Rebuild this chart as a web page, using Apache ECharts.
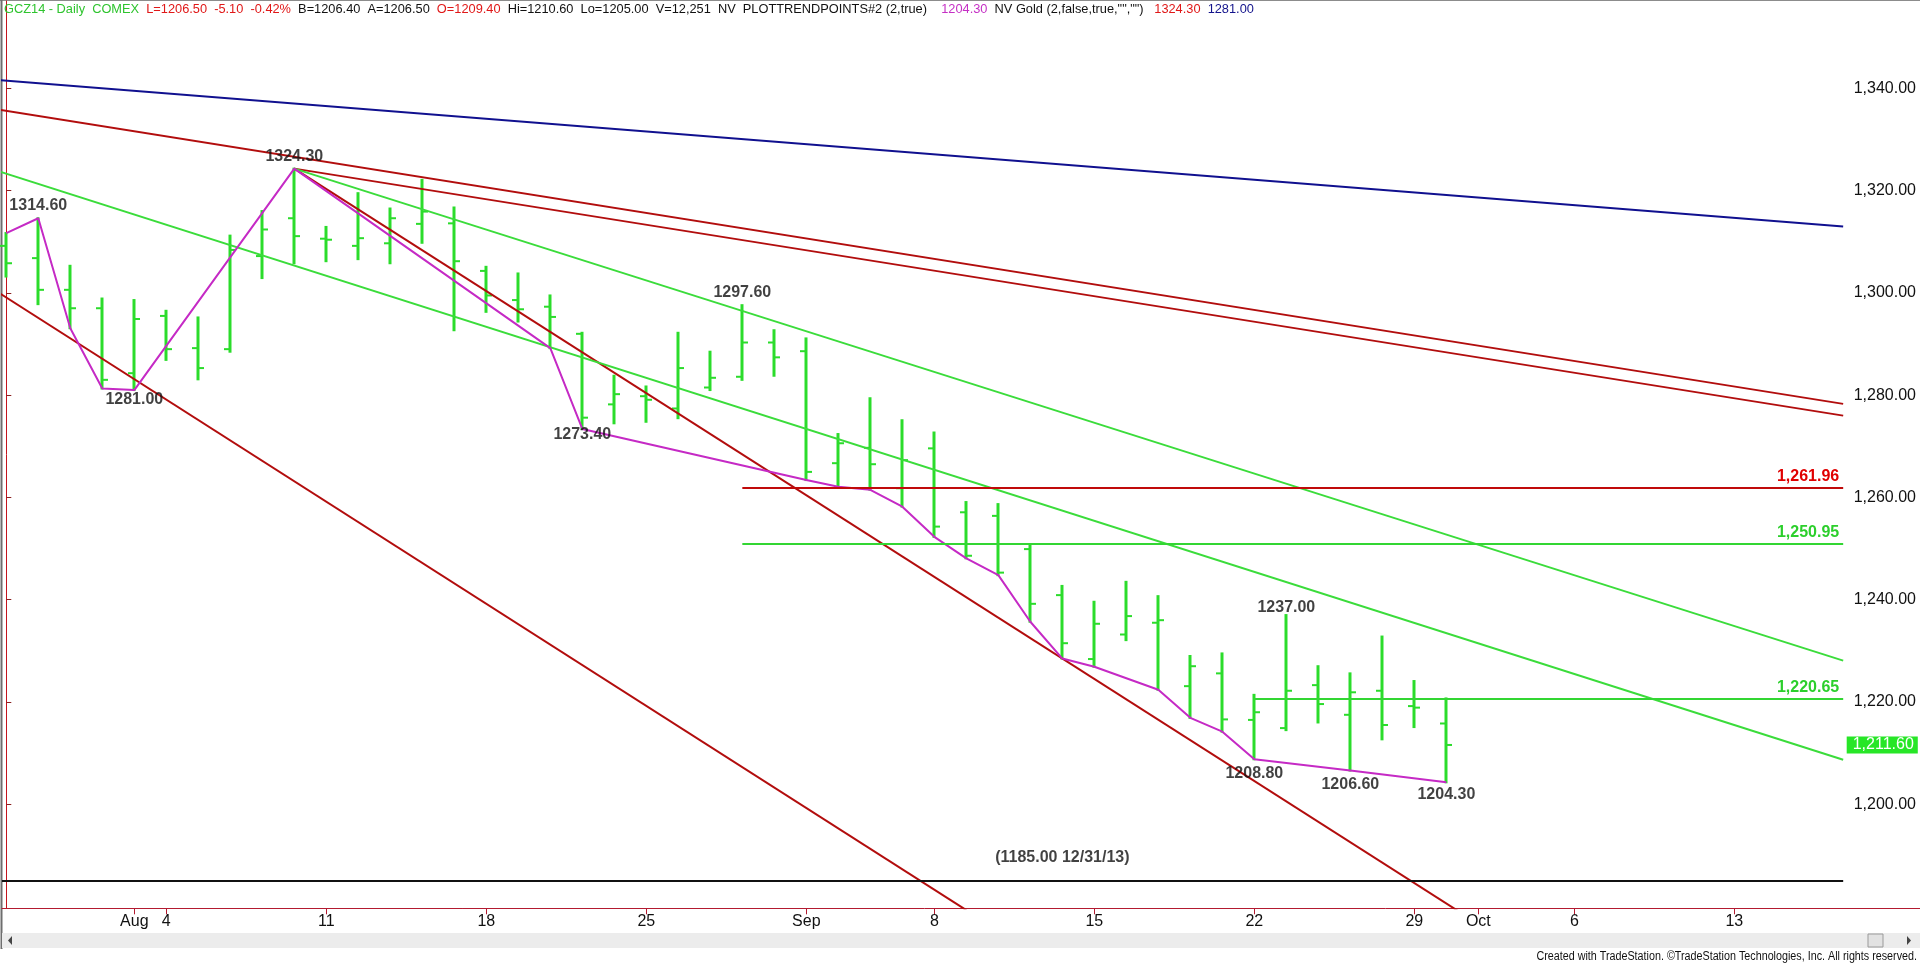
<!DOCTYPE html>
<html>
<head>
<meta charset="utf-8">
<script src="https://cdn.jsdelivr.net/npm/echarts@6/dist/echarts.min.js"></script>
<style>
html,body{margin:0;padding:0;background:#fff;overflow:hidden;}
#c{width:1920px;height:964px;}
</style>
</head>
<body>
<div id="c"></div>
<script>
// ---- trading days on the axis (index = position) ----
const days = ['07-28','07-29','07-30','07-31','08-01','08-04','08-05','08-06','08-07','08-08',
  '08-11','08-12','08-13','08-14','08-15','08-18','08-19','08-20','08-21','08-22',
  '08-25','08-26','08-27','08-28','08-29','09-02','09-03','09-04','09-05','09-08',
  '09-09','09-10','09-11','09-12','09-15','09-16','09-17','09-18','09-19','09-22',
  '09-23','09-24','09-25','09-26','09-29','09-30','10-01','10-02','10-03','10-06',
  '10-07','10-08','10-09','10-10','10-13','10-14','10-15','10-16'];

// ---- daily OHLC (Jul 28 .. Sep 30) ----
const open  = [1309.2,1306.8,1300.6,1297.0,1284.3,1295.5,1289.2,1289.0,1307.2,1314.6,
  1310.6,1309.2,1309.7,1313.5,1313.6,1304.3,1298.6,1297.3,1292.0,1278.2,
  1279.8,1277.4,1281.5,1283.6,1290.3,1288.6,1266.7,1269.7,1261.8,1269.6,
  1257.1,1256.4,1249.9,1240.9,1228.4,1233.2,1235.5,1223.1,1225.6,1216.5,
  1214.9,1223.3,1217.5,1222.2,1219.2,1215.8];
const high  = [1311.7,1314.6,1305.3,1298.9,1298.6,1296.5,1295.2,1311.2,1316.0,1324.3,
  1312.9,1319.5,1316.5,1322.1,1316.7,1305.1,1303.8,1299.5,1292.2,1283.8,
  1281.7,1292.2,1288.5,1297.6,1292.7,1291.1,1272.4,1279.4,1275.1,1272.7,
  1259.1,1258.7,1250.9,1242.7,1239.6,1243.5,1240.7,1229.0,1229.5,1221.4,
  1237.0,1227.0,1225.6,1232.8,1224.1,1220.7];
const low   = [1303.2,1297.8,1293.1,1281.3,1281.0,1286.9,1283.1,1288.5,1302.9,1305.8,
  1306.2,1306.6,1305.8,1309.8,1292.7,1296.3,1294.4,1289.2,1273.4,1274.5,
  1274.8,1275.5,1281.0,1283.0,1283.8,1263.4,1262.1,1261.5,1258.2,1252.3,
  1248.1,1244.8,1235.7,1228.5,1226.9,1232.1,1222.4,1216.9,1214.2,1208.8,
  1214.5,1216.0,1206.6,1212.7,1215.1,1204.3];
const close = [1305.8,1300.6,1297.0,1283.0,1294.9,1289.0,1285.3,1308.4,1312.4,1311.1,
  1310.4,1310.7,1314.6,1315.9,1306.2,1299.5,1296.8,1295.3,1275.6,1280.2,
  1279.1,1285.3,1283.4,1290.3,1287.4,1265.0,1270.6,1266.5,1267.3,1254.3,
  1248.6,1245.3,1239.2,1231.5,1235.3,1236.8,1236.0,1227.0,1216.6,1218.0,
  1222.2,1219.6,1221.9,1215.5,1218.9,1211.6];

// ---- x tick labels ----
const xTickDays = ['08-01','08-04','08-11','08-18','08-25','09-02','09-08','09-15','09-22','09-29','10-01','10-06','10-13'];
const xTickText = ['Aug','4','11','18','25','Sep','8','15','22','29','Oct','6','13'];
// ---- y tick labels ----
const yTicks = [1200,1220,1240,1260,1280,1300,1320,1340];

// ---- PLOTTRENDPOINTS zigzag [dayIndex, price] ----
const trendPoints = [[0,1311.7],[1,1314.6],[2,1293.1],[3,1281.3],[4,1281.0],[9,1324.3],[17,1289.2],
  [18,1273.4],[25,1263.4],[26,1262.1],[27,1261.5],[28,1258.2],[29,1252.3],[30,1248.1],[31,1244.8],
  [32,1235.7],[33,1228.5],[34,1226.9],[36,1222.4],[37,1216.9],[38,1214.2],[39,1208.8],[42,1206.6],[45,1204.3]];

// ---- trend lines, two anchors each [dayIndex, price] ----
const blueLine    = [[-0.2,1341.6],[57.4,1313.0]];
const redLineA    = [[-0.2,1335.8],[57.4,1278.3]];
const redLineB    = [[9,1324.3],[57.4,1276.0]];
const redSteepA   = [[9,1324.3],[33,1228.5]];
const redSteepB   = [[-0.2,1299.9],[30,1179.3]];
const greenUpper  = [[9,1324.3],[57.4,1228.1]];
const greenLower  = [[-0.2,1323.7],[57.4,1208.7]];

// ---- horizontal levels ----
const levelValues = [1261.96,1250.95,1220.65];
const levelStartDay = ['08-28','08-28','09-22'];
const supportValue = 1185.00;
const supportText = '(1185.00 12/31/13)';
const supportLabelDay = '09-12';

// ---- swing annotations [dayIndex, price, side] ----
const annotations = [[1,1314.6,'top'],[4,1281.0,'bottom'],[9,1324.3,'top'],[18,1273.4,'bottom'],
  [23,1297.6,'top'],[40,1237.0,'top'],[39,1208.8,'bottom'],[42,1206.6,'bottom'],[45,1204.3,'bottom']];
// label gap (px) for each annotation, layout only
const annotationGap = [4,1,4,-3,4,-1,6,6,4];

// ---- header ----
const headerText = ['GCZ14 - Daily  COMEX','L=1206.50  -5.10  -0.42%','B=1206.40  A=1206.50','O=1209.40',
  'Hi=1210.60  Lo=1205.00  V=12,251  NV  PLOTTRENDPOINTS#2 (2,true)','1204.30','NV Gold (2,false,true,"","")','1324.30','1281.00'];
const headerKind = ['g','r','k','r','k','m','k','r','b'];
const headerGap  = ['  ','  ','  ','  ','    ','  ','   ','  ',''];

// ================= build =================
const FONT = '"Liberation Sans", Arial, sans-serif';
const GREEN = '#2bdc2b', LGREEN = '#3bdc3b', RED = '#b20d0d', BLUE = '#10108f', MAG = '#c52ac5';
const KCOL = {g:'#2fc42f', r:'#e01818', k:'#111', m:'#c530c5', b:'#14148c'};
const X_MIN = -0.134, X_MAX = 57.51, Y_MIN = 1179.66, Y_MAX = 1357.08;
const LINE_END = 57.4;
const di = d => days.indexOf(d);
const tickIdx = xTickDays.map(di);
const fmt2 = v => v.toLocaleString('en-US',{minimumFractionDigits:2, maximumFractionDigits:2});

function extend(seg, toX){
  const [p,q] = seg; const k = (q[1]-p[1])/(q[0]-p[0]);
  return [p,[toX, p[1]+k*(toX-p[0])]];
}
function lineSeries(pts, color, width, z){
  return {type:'line', data:pts, symbol:'none', silent:true, animation:false, clip:true, z:z||3,
    lineStyle:{color:color, width:width||2}};
}

const series = [];
// OHLC bars
series.push({
  type:'custom', z:2, silent:true, animation:false,
  data: open.map((o,i)=>[i,o,high[i],low[i],close[i]]),
  encode:{x:0, y:[1,2,3,4]},
  renderItem:(params, api)=>{
    const i = api.value(0);
    const pO = api.coord([i,api.value(1)]), pH = api.coord([i,api.value(2)]);
    const pL = api.coord([i,api.value(3)]), pC = api.coord([i,api.value(4)]);
    const x = Math.round(pO[0]);
    return {type:'group', children:[
      {type:'line', shape:{x1:x,y1:pH[1]-1,x2:x,y2:pL[1]+1}, style:{stroke:GREEN,lineWidth:3}},
      {type:'line', shape:{x1:x-6,y1:pO[1],x2:x,y2:pO[1]}, style:{stroke:GREEN,lineWidth:2}},
      {type:'line', shape:{x1:x,y1:pC[1],x2:x+6,y2:pC[1]}, style:{stroke:GREEN,lineWidth:2}}
    ]};
  }
});
// trend lines
series.push(lineSeries(blueLine, BLUE, 2));
series.push(lineSeries(redLineA, RED, 2));
series.push(lineSeries(redLineB, RED, 2));
series.push(lineSeries(extend(redSteepA, 48), RED, 2));
series.push(lineSeries(redSteepB, RED, 2));
series.push(lineSeries(greenUpper, LGREEN, 2));
series.push(lineSeries(greenLower, LGREEN, 2));
// zigzag
series.push(lineSeries(trendPoints, MAG, 2, 4));
// levels
const levelColors = ['#c00a0a','#33d633','#33d633'];
const levelLabelColors = ['#e00000','#2ccf2c','#2ccf2c'];
levelValues.forEach((v,k)=>{
  series.push({type:'line', data:[], silent:true, animation:false,
    markLine:{symbol:'none', silent:true, animation:false,
      lineStyle:{color:levelColors[k], width:2, type:'solid'},
      label:{show:true, position:'insideEndTop', formatter:fmt2(v), color:levelLabelColors[k],
        fontWeight:'bold', fontSize:16, fontFamily:FONT, distance:[4,3]},
      data:[[{coord:[di(levelStartDay[k]), v]},{coord:[LINE_END, v]}]]}});
});
// 1185 support
series.push({type:'line', data:[], silent:true, animation:false,
  markLine:{symbol:'none', silent:true, animation:false, label:{show:false},
    lineStyle:{color:'#111', width:2, type:'solid'},
    data:[[{coord:[X_MIN, supportValue]},{coord:[LINE_END, supportValue]}]]}});
series.push({type:'scatter', silent:true, animation:false, symbolSize:1, itemStyle:{color:'rgba(0,0,0,0)'}, z:6,
  data:[[di(supportLabelDay), supportValue]],
  label:{show:true, position:'top', distance:15, formatter:supportText, color:'#111',
    fontWeight:'bold', fontSize:16, fontFamily:FONT}});
// swing labels
series.push({type:'scatter', silent:true, animation:false, symbolSize:1, itemStyle:{color:'rgba(0,0,0,0)'}, z:6,
  data: annotations.map((a,k)=>({value:[a[0],a[1]], label:{position:a[2], distance:annotationGap[k]}})),
  label:{show:true, formatter:p=>p.value[1].toFixed(2), color:'#111',
    fontWeight:'bold', fontSize:16, fontFamily:FONT}});
// last price box on the axis
series.push({type:'line', data:[], silent:true, animation:false,
  markLine:{symbol:'none', silent:true, animation:false,
    lineStyle:{width:0, color:'rgba(0,0,0,0)'},
    label:{show:true, position:'end', distance:0, formatter:fmt2(close[close.length-1]),
      backgroundColor:'#27e627', color:'#ffffff', fontSize:16, fontFamily:FONT,
      padding:[1,4,0,6], lineHeight:16},
    data:[{yAxis: close[close.length-1]}]}});

const rich = {};
Object.keys(KCOL).forEach(k=>{ rich[k] = {color:KCOL[k], fontSize:12.8, fontFamily:FONT}; });
const headerStr = headerText.map((t,i)=>'{'+headerKind[i]+'|'+t+'}'+headerGap[i]).join('');

const option = {
  animation:false,
  backgroundColor:'#ffffff',
  title: [{text:headerStr, left:4, top:3, padding:0,
    textStyle:{fontSize:12.8, fontWeight:'normal', fontFamily:FONT, color:'#111', rich:rich}}],
  grid:{left:2, right:73.3, top:1, bottom:55.7, show:false},
  xAxis:{type:'value', min:X_MIN, max:X_MAX, splitLine:{show:false},
    axisLine:{show:true, onZero:false, lineStyle:{color:'#b31a30', width:1}},
    axisTick:{show:true, customValues:tickIdx, length:6, lineStyle:{color:'#b31a30'}},
    axisLabel:{show:true, customValues:tickIdx, margin:5, color:'#111', fontSize:16, fontFamily:FONT,
      formatter:v=>xTickText[tickIdx.indexOf(Math.round(v))]}},
  yAxis:{type:'value', position:'right', min:Y_MIN, max:Y_MAX, splitLine:{show:false},
    axisLine:{show:true, lineStyle:{color:'#c4141c', width:1}},
    axisTick:{show:true, customValues:yTicks, length:5, lineStyle:{color:'#8a2020'}},
    axisLabel:{show:true, customValues:yTicks, margin:7, color:'#111', fontSize:16, fontFamily:FONT,
      formatter:v=>fmt2(v)}},
  graphic:[
    {type:'line', silent:true, shape:{x1:0,y1:0.5,x2:1920,y2:0.5}, style:{stroke:'#8c8c8c',lineWidth:1}},
    {type:'line', silent:true, shape:{x1:1.5,y1:0,x2:1.5,y2:949}, style:{stroke:'#6e6e6e',lineWidth:2}},
    {type:'line', silent:true, shape:{x1:1846,y1:908.5,x2:1920,y2:908.5}, style:{stroke:'#b31a30',lineWidth:1}},
    {type:'rect', silent:true, shape:{x:2,y:933,width:1918,height:15}, style:{fill:'#ececec'}},
    {type:'polygon', silent:true, shape:{points:[[12,936],[12,945],[8,940.5]]}, style:{fill:'#444'}},
    {type:'polygon', silent:true, shape:{points:[[1907,936],[1907,945],[1911,940.5]]}, style:{fill:'#444'}},
    {type:'rect', silent:true, shape:{x:1868,y:934,width:15,height:13}, style:{fill:'#e2e2e2',stroke:'#9a9a9a',lineWidth:1}},
    {type:'text', silent:true, x:1917, y:957, scaleX:0.86,
      style:{text:'Created with TradeStation. ©TradeStation Technologies, Inc. All rights reserved.',
        fill:'#111', font:'12.5px "Liberation Sans", Arial, sans-serif', textAlign:'right', textVerticalAlign:'middle'}}
  ],
  series: series
};
const chart = echarts.init(document.getElementById('c'), null, {renderer:'canvas'});
chart.setOption(option);
</script>
</body>
</html>
